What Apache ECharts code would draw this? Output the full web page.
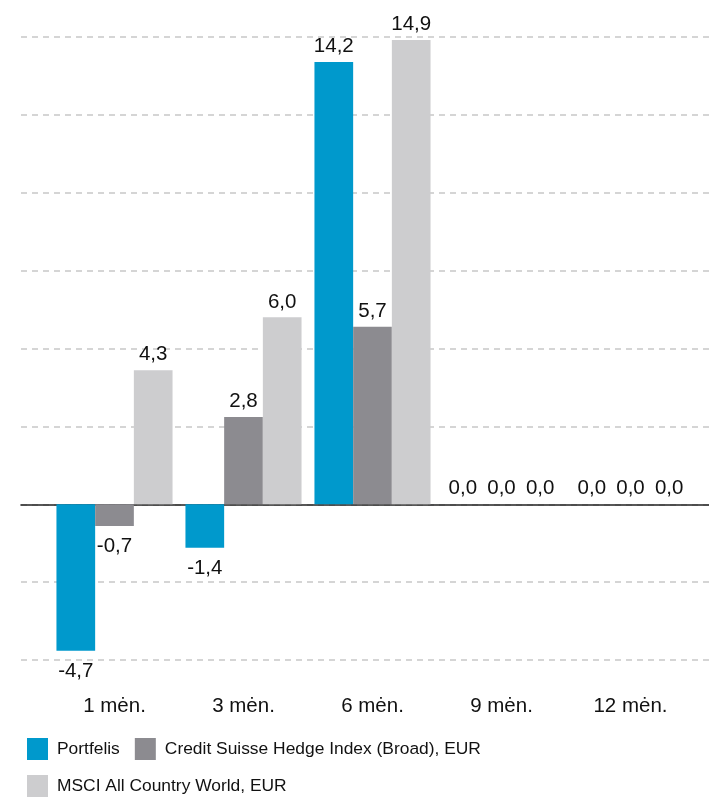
<!DOCTYPE html>
<html>
<head>
<meta charset="utf-8">
<script src="https://cdn.jsdelivr.net/npm/echarts@6/dist/echarts.min.js"></script>
<style>
html,body{margin:0;padding:0;background:#fff;}
#chart{width:709px;height:797px;}
</style>
</head>
<body>
<div id="chart"></div>
<script>
const categories = ['1 mėn.', '3 mėn.', '6 mėn.', '9 mėn.', '12 mėn.'];
const seriesNames = ['Portfelis', 'Credit Suisse Hedge Index (Broad), EUR', 'MSCI All Country World, EUR'];
const portfelis = [-4.7, -1.4, 14.2, 0.0, 0.0];
const creditSuisse = [-0.7, 2.8, 5.7, 0.0, 0.0];
const msci = [4.3, 6.0, 14.9, 0.0, 0.0];
const colors = ['#0099cc', '#8c8b90', '#cdcdcf'];
const yMin = -5, yMax = 15, yInterval = 2.5;

const fmt = v => v.toFixed(1).replace('.', ',');
function items(arr) {
  return arr.map(v => ({ value: v, label: v < 0 ? { position: 'bottom', distance: 10 } : { position: 'top', distance: 5 } }));
}
function barSeries(name, arr, color) {
  return {
    name: name, type: 'bar', xAxisIndex: 1, yAxisIndex: 1,
    data: items(arr), barWidth: 38.7, barGap: '0%',
    itemStyle: { color: color },
    label: { show: true, color: '#111', fontSize: 20.5, fontFamily: 'Liberation Sans, Arial, sans-serif',
      formatter: p => fmt(p.value) },
    emphasis: { disabled: true }, animation: false
  };
}
const chart = echarts.init(document.getElementById('chart'), null, { renderer: 'canvas' });
chart.setOption({
  animation: false,
  textStyle: { fontFamily: 'Liberation Sans, Arial, sans-serif' },
  grid: [
    { left: 21, right: 0, top: 37, bottom: 137 },
    { left: 50, right: 14, top: 37, bottom: 137 }
  ],
  xAxis: [
    { type: 'value', gridIndex: 0, min: 0, max: 1, show: true,
      axisLine: { show: true, onZero: true, lineStyle: { color: '#222', width: 1.6 } },
      axisTick: { show: false }, axisLabel: { show: false }, splitLine: { show: false } },
    { type: 'category', gridIndex: 1, data: categories,
      axisLine: { show: false, onZero: false }, axisTick: { show: false },
      axisLabel: { color: '#111', fontSize: 20.5, margin: 36, fontFamily: 'Liberation Sans, Arial, sans-serif' } }
  ],
  yAxis: [
    { type: 'value', gridIndex: 0, min: yMin, max: yMax, interval: yInterval,
      axisLine: { show: false }, axisTick: { show: false }, axisLabel: { show: false },
      splitLine: { show: true, lineStyle: { color: '#c8c8c8', width: 1.5, type: [6, 5] } } },
    { type: 'value', gridIndex: 1, min: yMin, max: yMax, interval: yInterval, show: false,
      splitLine: { show: false } }
  ],
  legend: [
    { data: [seriesNames[0], seriesNames[1]], left: 27, top: 738, padding: 0,
      itemWidth: 21, itemHeight: 22, itemGap: 15, icon: 'rect',
      textStyle: { fontSize: 17.4, color: '#111', padding: [0, 0, 0, 4] } },
    { data: [seriesNames[2]], left: 27, top: 775, padding: 0,
      itemWidth: 21, itemHeight: 22, itemGap: 15, icon: 'rect',
      textStyle: { fontSize: 17.4, color: '#111', padding: [0, 0, 0, 4] } }
  ],
  series: [
    barSeries(seriesNames[0], portfelis, colors[0]),
    barSeries(seriesNames[1], creditSuisse, colors[1]),
    barSeries(seriesNames[2], msci, colors[2])
  ]
});
</script>
</body>
</html>
